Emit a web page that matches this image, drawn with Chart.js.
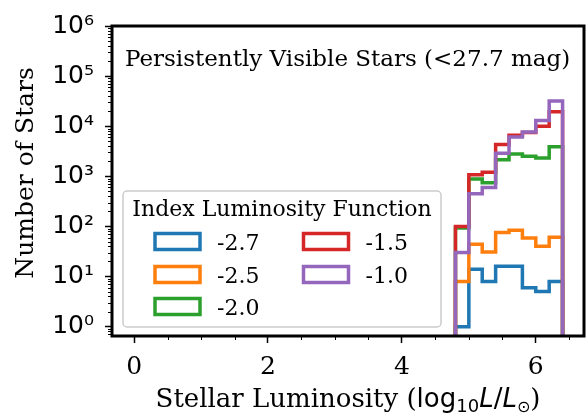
<!DOCTYPE html>
<html>
<head>
<meta charset="utf-8">
<script src="https://cdn.jsdelivr.net/npm/chart.js@4.4.1/dist/chart.umd.min.js"></script>
<style>
  html, body { margin: 0; padding: 0; background: #fff; }
  #wrap { width: 587px; height: 417px; position: relative; }
</style>
</head>
<body>
<div id="wrap"><canvas id="lum-hist"></canvas></div>
<script>
// histogram bin edges in log10 L/Lsun
const binEdges = [4.8, 5.0, 5.2, 5.4, 5.6, 5.8, 6.0, 6.2, 6.4];
const indexLabels = ["-2.7", "-2.5", "-2.0", "-1.5", "-1.0"];
const seriesColors = ["#1f77b4", "#ff7f0e", "#2ca02c", "#d62728", "#9467bd"];

// star counts per bin, one array per luminosity-function index
const countsIdx27 = [1, 14, 8, 16, 16, 6, 5, 8];
const countsIdx25 = [8, 44, 31, 76, 84, 59, 40, 61];
const countsIdx20 = [93, 880, 740, 2150, 2780, 2500, 2330, 3900];
const countsIdx15 = [100, 1070, 1200, 4300, 6600, 7500, 10000, 19500];
const countsIdx10 = [30, 450, 600, 2900, 6100, 7700, 13000, 32000];

const xTicks = [0, 2, 4, 6];
const xMinorTicks = [0.5, 1, 1.5, 2.5, 3, 3.5, 4.5, 5, 5.5, 6.5];
const yTicks = [1, 10, 100, 1000, 10000, 100000, 1000000];

const SUP = { 0: "\u2070", 1: "\u00b9", 2: "\u00b2", 3: "\u00b3", 4: "\u2074", 5: "\u2075", 6: "\u2076" };
const HIST_FLOOR = 0.01; // below the axis, closes each step outline

function stepPoints(counts) {
  const pts = [{ x: binEdges[0], y: HIST_FLOOR }];
  counts.forEach((c, i) => pts.push({ x: binEdges[i], y: c }));
  pts.push({ x: binEdges[binEdges.length - 1], y: HIST_FLOOR });
  return pts;
}

const allCounts = [countsIdx27, countsIdx25, countsIdx20, countsIdx15, countsIdx10];

// 'before' = horizontal run at the previous value, then the vertical jump
const datasets = allCounts.map((counts, i) => ({
  label: indexLabels[i],
  data: stepPoints(counts),
  stepped: "before",
  borderColor: seriesColors[i],
  borderWidth: 3.5,
  borderJoinStyle: "miter",
  pointRadius: 0,
  fill: false,
  order: allCounts.length - 1 - i,
}));

const extras = {
  id: "extras",
  afterDraw(chart) {
    const { ctx, chartArea: a, scales: { x, y } } = chart;
    ctx.save();
    ctx.strokeStyle = "#000";

    // minor ticks
    ctx.lineWidth = 1;
    ctx.beginPath();
    xMinorTicks.forEach((v) => {
      const px = Math.round(x.getPixelForValue(v)) + 0.5;
      ctx.moveTo(px, a.bottom);
      ctx.lineTo(px, a.bottom + 4);
    });
    for (let d = 0.1; d < 1e6; d *= 10) {
      for (let k = 2; k <= 9; k++) {
        const v = d * k;
        if (v < y.min || v > y.max) continue;
        const py = Math.round(y.getPixelForValue(v)) + 0.5;
        ctx.moveTo(a.left, py);
        ctx.lineTo(a.left - 4, py);
      }
    }
    ctx.stroke();

    // axes frame
    ctx.lineWidth = 3;
    ctx.strokeRect(a.left, a.top, a.right - a.left, a.bottom - a.top);

    // annotation
    ctx.fillStyle = "#000";
    ctx.font = "23px 'DejaVu Serif'";
    ctx.textAlign = "left";
    ctx.textBaseline = "alphabetic";
    ctx.fillText("Persistently Visible Stars (<27.7 mag)", 125, 66);

    // legend
    const lx = 123, ly = 191, lw = 318, lh = 136;
    ctx.beginPath();
    ctx.roundRect(lx, ly, lw, lh, 4);
    ctx.fillStyle = "rgba(255,255,255,0.8)";
    ctx.fill();
    ctx.lineWidth = 1.5;
    ctx.strokeStyle = "#cccccc";
    ctx.stroke();

    ctx.fillStyle = "#000";
    ctx.font = "22px 'DejaVu Serif'";
    ctx.textAlign = "center";
    ctx.fillText("Index Luminosity Function", 282, 216);
    ctx.textAlign = "left";
    const rowY = [241.5, 274.5, 306.5];
    const colX = [155, 303.5];
    indexLabels.forEach((lab, i) => {
      const col = i < 3 ? 0 : 1;
      const row = i < 3 ? i : i - 3;
      const cy = rowY[row];
      ctx.lineWidth = 3.5;
      ctx.strokeStyle = seriesColors[i];
      ctx.strokeRect(colX[col], cy - 8, 45, 16);
      ctx.fillStyle = "#000";
      ctx.fillText(lab, colX[col] + 62, cy + 8);
    });

    // axis titles
    ctx.save();
    ctx.translate(33, 173);
    ctx.rotate(-Math.PI / 2);
    ctx.font = "25px 'DejaVu Serif'";
    ctx.textAlign = "center";
    ctx.textBaseline = "alphabetic";
    ctx.fillText("Number of Stars", 0, 0);
    ctx.restore();

    const parts = [
      { t: "Stellar Luminosity (", f: "26px 'DejaVu Serif'", dy: 0 },
      { t: "log", f: "26px 'DejaVu Sans'", dy: 0 },
      { t: "10", f: "18px 'DejaVu Sans'", dy: 5 },
      { t: "L", f: "italic 26px 'DejaVu Sans'", dy: 0 },
      { t: "/", f: "26px 'DejaVu Sans'", dy: 0 },
      { t: "L", f: "italic 26px 'DejaVu Sans'", dy: 0 },
      { t: "\u2299", f: "16px 'DejaVu Sans'", dy: 5 },
      { t: ")", f: "26px 'DejaVu Serif'", dy: 0 },
    ];
    let total = 0;
    parts.forEach((p) => { ctx.font = p.f; p.w = ctx.measureText(p.t).width; total += p.w; });
    let cx = (a.left + a.right) / 2 - total / 2;
    ctx.textAlign = "left";
    parts.forEach((p) => {
      ctx.font = p.f;
      ctx.fillText(p.t, cx, 407 + p.dy);
      cx += p.w;
    });
    ctx.restore();
  },
};

new Chart(document.getElementById("lum-hist"), {
  type: "line",
  data: { datasets },
  options: {
    responsive: true,
    maintainAspectRatio: false,
    animation: false,
    events: [],
    layout: { padding: { top: 19, right: 3, left: 0, bottom: 0 } },
    plugins: { legend: { display: false }, tooltip: { enabled: false } },
    scales: {
      x: {
        type: "linear",
        min: -0.33,
        max: 6.72,
        afterBuildTicks: (s) => { s.ticks = xTicks.map((v) => ({ value: v })); },
        afterFit: (s) => { s.height = 81; },
        border: { display: false },
        grid: { drawOnChartArea: false, tickLength: 7, tickWidth: 1.5, tickColor: "#000" },
        ticks: { color: "#000", padding: 9, maxRotation: 0, font: { family: "DejaVu Serif", size: 25 } },
      },
      y: {
        type: "logarithmic",
        min: 0.65,
        max: 1e6,
        afterBuildTicks: (s) => { s.ticks = yTicks.map((v) => ({ value: v })); },
        afterFit: (s) => { s.width = 112; },
        border: { display: false },
        grid: { drawOnChartArea: false, tickLength: 7, tickWidth: 1.5, tickColor: "#000" },
        ticks: {
          color: "#000",
          padding: 11,
          font: { family: "DejaVu Sans", size: 25 },
          callback: (v) => "10" + SUP[Math.round(Math.log10(v))],
        },
      },
    },
  },
  plugins: [extras],
});
</script>
</body>
</html>
